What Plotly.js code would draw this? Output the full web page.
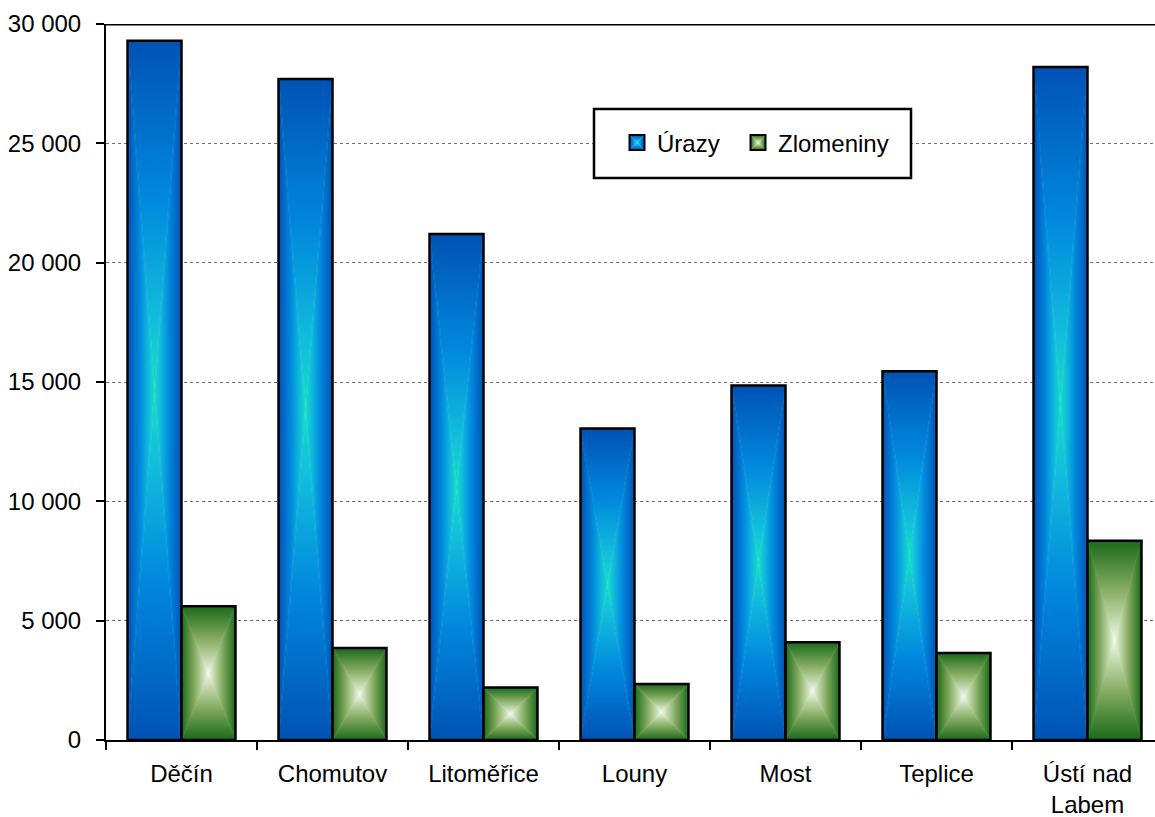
<!DOCTYPE html>
<html>
<head>
<meta charset="utf-8">
<script src="https://cdn.plot.ly/plotly-3.0.1.min.js"></script>
<style>
  html, body { margin: 0; padding: 0; background: #fff; }
  #chart { width: 1155px; height: 817px; }
</style>
</head>
<body>
<div id="chart"></div>
<script>
const categories = ['Děčín', 'Chomutov', 'Litoměřice', 'Louny', 'Most', 'Teplice', 'Ústí nad<br>Labem'];
const urazy = [29300, 27700, 21200, 13050, 14850, 15450, 28200];
const zlomeniny = [5600, 3850, 2200, 2350, 4100, 3650, 8350];
const seriesNames = ['Úrazy', 'Zlomeniny'];
const yTicks = [0, 5000, 10000, 15000, 20000, 25000, 30000];

const FONT = 'Liberation Sans, Arial, sans-serif';

const traces = [
  { type: 'bar', name: seriesNames[0], x: categories, y: urazy, legend: 'legend',
    marker: { color: '#0088DD', line: { color: '#000', width: 2.5 } }, hoverinfo: 'x+y' },
  { type: 'bar', name: seriesNames[1], x: categories, y: zlomeniny, legend: 'legend2',
    marker: { color: '#70A050', line: { color: '#000', width: 2.5 } }, hoverinfo: 'x+y' }
];

function legendBox(xPix) {
  return {
    orientation: 'h', x: (xPix - 106) / 1049, xanchor: 'left', y: (740 - 143) / 716, yanchor: 'middle',
    bgcolor: 'rgba(0,0,0,0)', borderwidth: 0,
    font: { family: FONT, size: 24, color: '#000' },
    itemclick: false, itemdoubleclick: false
  };
}

const layout = {
  width: 1155, height: 817,
  margin: { l: 106, r: 0, t: 24, b: 77 },
  paper_bgcolor: '#fff', plot_bgcolor: '#fff',
  font: { family: FONT, size: 24, color: '#000' },
  separators: ', ',
  barmode: 'group', bargap: 0.285, bargroupgap: 0,
  showlegend: true,
  legend: legendBox(617),
  legend2: legendBox(738),
  xaxis: {
    type: 'category', range: [-0.5, 6.447],
    showline: true, linecolor: '#000', linewidth: 2,
    ticks: 'outside', tickson: 'boundaries', ticklen: 8, tickwidth: 2, tickcolor: '#000',
    ticklabelstandoff: 11,
    showgrid: false, zeroline: false, fixedrange: true,
    tickfont: { family: FONT, size: 24, color: '#000' }
  },
  yaxis: {
    range: [0, 30000], tickvals: yTicks, tickformat: ',d',
    showline: true, linecolor: '#000', linewidth: 2,
    ticks: 'outside', ticklen: 8, tickwidth: 2, tickcolor: '#000',
    ticklabelstandoff: 10,
    showgrid: true, gridcolor: '#707070', gridwidth: 1, griddash: 'dot',
    zeroline: false, fixedrange: true,
    tickfont: { family: FONT, size: 24, color: '#000' }
  },
  shapes: [
    { type: 'line', xref: 'paper', yref: 'y', x0: 0, x1: 1, y0: 30000, y1: 30000,
      line: { color: '#000', width: 3 }, layer: 'above' },
    { type: 'rect', xref: 'paper', yref: 'paper',
      x0: (594 - 106) / 1049, x1: (911 - 106) / 1049,
      y0: (740 - 178) / 716, y1: (740 - 109) / 716,
      fillcolor: '#fff', line: { color: '#000', width: 2.5 }, layer: 'above' }
  ]
};

const gradients = {
  gradBlue: [['0', '#0052B4'], ['0.45', '#0088DD'], ['0.8', '#12BEDC'], ['1', '#14DEC4']],
  gradGreen: [['0', '#1A6A1A'], ['0.45', '#7DA65A'], ['0.8', '#C4DAAE'], ['1', '#F2F8EE']]
};

function addRectGradient(defs, id, stops) {
  const NS = 'http://www.w3.org/2000/svg';
  const dirs = {
    t: [0.5, 0, 0.5, 0.5], b: [0.5, 1, 0.5, 0.5],
    l: [0, 0.5, 0.5, 0.5], r: [1, 0.5, 0.5, 0.5]
  };
  Object.keys(dirs).forEach(k => {
    const lg = document.createElementNS(NS, 'linearGradient');
    lg.setAttribute('id', id + '_' + k);
    lg.setAttribute('gradientUnits', 'userSpaceOnUse');
    const d = dirs[k];
    lg.setAttribute('x1', d[0]); lg.setAttribute('y1', d[1]);
    lg.setAttribute('x2', d[2]); lg.setAttribute('y2', d[3]);
    stops.forEach(s => {
      const st = document.createElementNS(NS, 'stop');
      st.setAttribute('offset', s[0]);
      st.setAttribute('stop-color', s[1]);
      lg.appendChild(st);
    });
    defs.appendChild(lg);
  });
  const pat = document.createElementNS(NS, 'pattern');
  pat.setAttribute('id', id);
  pat.setAttribute('patternUnits', 'objectBoundingBox');
  pat.setAttribute('patternContentUnits', 'objectBoundingBox');
  pat.setAttribute('x', 0); pat.setAttribute('y', 0);
  pat.setAttribute('width', 1); pat.setAttribute('height', 1);
  pat.setAttribute('preserveAspectRatio', 'none');
  const polys = {
    t: '0,0 1,0 0.5,0.5', b: '0,1 1,1 0.5,0.5',
    l: '0,0 0,1 0.5,0.5', r: '1,0 1,1 0.5,0.5'
  };
  Object.keys(polys).forEach(k => {
    const p = document.createElementNS(NS, 'polygon');
    p.setAttribute('points', polys[k]);
    p.setAttribute('fill', 'url(#' + id + '_' + k + ')');
    p.setAttribute('stroke', 'url(#' + id + '_' + k + ')');
    p.setAttribute('stroke-width', '0.004');
    pat.appendChild(p);
  });
  defs.appendChild(pat);
}

function traceIndexOf(tr) {
  const d = tr.__data__;
  if (d && d[0] && d[0].trace && typeof d[0].trace.index === 'number') return d[0].trace.index;
  const t = tr.querySelector('.legendtext');
  const s = t ? t.textContent : '';
  if (s.indexOf('Zlom') >= 0) return 1;
  if (s.indexOf('razy') >= 0) return 0;
  return -1;
}

function applyGradients(gd) {
  const svg = gd.querySelector('svg.main-svg');
  let defs = svg.querySelector('defs');
  if (!defs) { defs = document.createElementNS('http://www.w3.org/2000/svg', 'defs'); svg.insertBefore(defs, svg.firstChild); }
  if (!defs.querySelector('#gradBlue')) {
    addRectGradient(defs, 'gradBlue', gradients.gradBlue);
    addRectGradient(defs, 'gradGreen', gradients.gradGreen);
  }
  const ids = ['gradBlue', 'gradGreen'];
  gd.querySelectorAll('.barlayer .trace').forEach((tr, i) => {
    tr.querySelectorAll('path').forEach(p => { p.style.fill = 'url(#' + ids[i] + ')'; });
  });
  gd.querySelectorAll('g.traces').forEach(tr => {
    const idx = traceIndexOf(tr);
    if (idx < 0 || idx > 1) return;
    tr.querySelectorAll('.legendpoints path').forEach(p => {
      p.setAttribute('d', 'M7.5,7.5H-7.5V-7.5H7.5Z');
      p.style.fill = 'url(#' + ids[idx] + ')';
      p.style.stroke = '#000';
      p.style.strokeWidth = '2px';
    });
  });
}

const gd = document.getElementById('chart');
Plotly.newPlot(gd, traces, layout, { displayModeBar: false, responsive: false }).then(() => {
  applyGradients(gd);
  setTimeout(() => applyGradients(gd), 50);
  gd.on('plotly_afterplot', () => applyGradients(gd));
});
</script>
</body>
</html>
